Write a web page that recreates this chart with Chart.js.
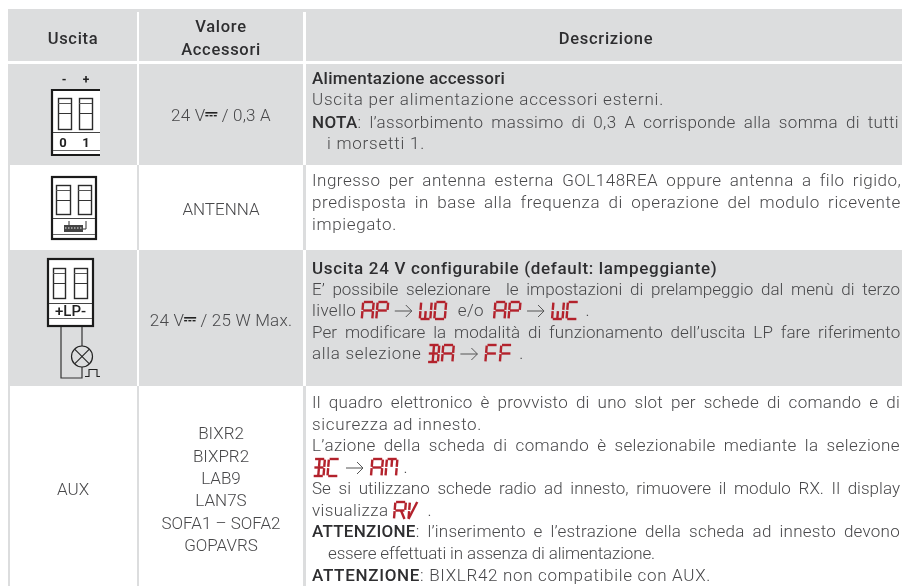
<!DOCTYPE html>
<html>
<head>
<meta charset="utf-8">
<title>Uscite</title>
<script src="https://cdn.jsdelivr.net/npm/chart.js@4"></script>
<style>
  html, body { margin: 0; padding: 0; background: #fff; }
  #wrap { width: 902px; height: 586px; }
</style>
</head>
<body>
<div id="wrap"><canvas id="tabella" width="902" height="586"></canvas></div>
<script>
// Testi della tabella
const intestazioni = ['Uscita', 'Valore|Accessori', 'Descrizione'];
const uscite = ['', '', '', 'AUX'];
const valori = [
    ['24 V~ / 0,3 A'],
    ['ANTENNA'],
    ['24 V~ / 25 W Max.'],
    ['BIXR2', 'BIXPR2', 'LAB9', 'LAN7S', 'SOFA1 – SOFA2', 'GOPAVRS']
];
const descrizioni = [
    ['**Alimentazione accessori**',
     'Uscita per alimentazione accessori esterni.',
     '**NOTA**: l’assorbimento massimo di 0,3 A corrisponde alla somma di tutti',
     'i morsetti 1.'],
    ['Ingresso per antenna esterna GOL148REA oppure antenna a filo rigido,',
     'predisposta in base alla frequenza di operazione del modulo ricevente',
     'impiegato.'],
    ['**Uscita 24 V configurabile (default: lampeggiante)**',
     'E’ possibile selezionare  le impostazioni di prelampeggio dal menù di terzo',
     'livello {AP}>{WO}  e/o  {AP}>{WC} .',
     'Per modificare la modalità di funzionamento dell’uscita LP fare riferimento',
     'alla selezione {BA}>{FF} .'],
    ['Il quadro elettronico è provvisto di uno slot per schede di comando e di',
     'sicurezza ad innesto.',
     'L’azione della scheda di comando è selezionabile mediante la selezione',
     '{BC}>{AM} .',
     'Se si utilizzano schede radio ad innesto, rimuovere il modulo RX. Il display',
     'visualizza {RV} .',
     '**ATTENZIONE**: l’inserimento e l’estrazione della scheda ad innesto devono',
     'essere effettuati in assenza di alimentazione.',
     '**ATTENZIONE**: BIXLR42 non compatibile con AUX.']
];

// Righe e colonne della griglia (altezze e bordi, in unita' della scala)
const bordiRighe = [9, 61, 64, 165, 250, 386, 586];
const bordiColonne = [8, 137, 139, 303, 306, 902];

// Fine riga di ogni testo
const fineRighe = [
    [505, 664, 899, 425],
    [901, 901, 397],
    [717, 900, 590, 900, 524],
    [900, 482, 900, 407, 900, 432, 900, 655, 711]
];
const baseRighe = [
    [84, 105, 128, 149],
    [186, 208, 230],
    [274, 295, 316, 338, 359],
    [408, 430, 451, 473, 494, 516, 537, 559, 581]
];
const rientri = { '0-3': 15, '3-7': 16 };

const GRIGIO = '#dcddde';
const NERO = '#1b1b1b';
const TESTO = '#48484a';
const SCURO = '#2e2e30';
const ROSSO = '#b3222c';
const FONT = 'Roboto, "Open Sans", sans-serif';

// Celle: riga grigia = tre celle, riga bianca = solo i filetti
function segmentiRiga(i) {
    const c = bordiColonne;
    if (i === 1) return [];
    return i % 2 === 0
        ? [[c[0], c[1]], [c[2], c[3]], [c[4], c[5]]]
        : [[c[0], c[0] + 2], [c[1], c[2]], [c[3], c[4]]];
}

const datasets = [];
for (let i = 0; i < bordiRighe.length - 1; i++) {
    const alto = bordiRighe[i], basso = bordiRighe[i + 1];
    const seg = segmentiRiga(i);
    if (!seg.length) continue;
    datasets.push({
        data: seg.map(s => ({ x: s, y: (alto + basso) / 2 })),
        backgroundColor: GRIGIO,
        barThickness: basso - alto,
        grouped: false,
        inflateAmount: 0,
        borderWidth: 0
    });
}
// striscia continua in cima all'intestazione
datasets.push({
    data: [{ x: [bordiColonne[0], bordiColonne[5]], y: 10.5 }],
    backgroundColor: GRIGIO,
    barThickness: 3,
    grouped: false,
    inflateAmount: 0,
    borderWidth: 0
});

function linea(ctx, pts, w, col) {
    ctx.strokeStyle = col || NERO;
    ctx.lineWidth = w;
    ctx.beginPath();
    pts.forEach((p, i) => i ? ctx.lineTo(p[0], p[1]) : ctx.moveTo(p[0], p[1]));
    ctx.stroke();
}

// Morsettiera: contorno, due viti e divisorio
function morsetto(ctx, x0, x1, y0, y1, vite1, vite2, yV0, yV1, yDiv, yFondo, aperto) {
    ctx.fillStyle = '#fff';
    ctx.fillRect(x0, y0, x1 - x0, y1 - y0);
    ctx.strokeStyle = NERO;
    if (aperto) {
        linea(ctx, [[x1, y0 + 1], [x0 + 1, y0 + 1], [x0 + 1, y1 - 1], [x1, y1 - 1]], 2.2);
    } else {
        ctx.lineWidth = 2.2;
        ctx.strokeRect(x0 + 1, y0 + 1, x1 - x0 - 2, y1 - y0 - 2);
    }
    [vite1, vite2].forEach(v => {
        ctx.lineWidth = 1.4;
        ctx.strokeStyle = '#2a2a2a';
        ctx.strokeRect(v[0] + .5, yV0 + .5, v[1] - v[0], yV1 - yV0);
        linea(ctx, [[v[0], yV0 + 5.5], [v[1], yV0 + 5.5]], 1, '#555');
        linea(ctx, [[v[0], yV0 + 15.5], [v[1], yV0 + 15.5]], 1, '#333');
    });
    linea(ctx, [[x0 + 2, yDiv], [x1 - (aperto ? 0 : 2), yDiv]], 1, '#444');
    linea(ctx, [[x0 + 2, yFondo], [x1 - (aperto ? 0 : 2), yFondo]], 1, '#666');
}

function disegnaIcone(ctx) {
    // alimentazione accessori
    morsetto(ctx, 51, 100, 89, 156, [58, 71], [79, 92], 98, 129, 132.5, 150.5, true);
    ctx.fillStyle = '#222';
    ctx.textAlign = 'center';
    ctx.font = 'bold 12px ' + FONT;
    ctx.fillText('-', 64, 84);
    ctx.fillText('+', 86, 84);
    ctx.font = 'bold 13px ' + FONT;
    ctx.fillText('0', 63, 147);
    ctx.fillText('1', 86, 147);

    // antenna
    morsetto(ctx, 51, 97, 176, 240, [56, 70], [78, 91], 185, 214, 218.5, 234.5, false);
    ctx.fillStyle = '#444';
    ctx.fillRect(64, 225, 19, 7);
    ctx.fillStyle = '#999';
    for (let x = 65; x < 83; x += 3) ctx.fillRect(x, 227, 1.5, 2);
    linea(ctx, [[69, 225], [69, 221]], 1, '#333');
    linea(ctx, [[83, 229], [86, 229], [86, 221]], 1, '#333');

    // lampeggiante
    morsetto(ctx, 47, 94, 258, 327, [53, 65], [74, 87], 268, 298, 303.5, 318.5, false);
    ctx.fillStyle = '#222';
    ctx.font = '500 15px ' + FONT;
    ctx.fillText('+LP-', 70.5, 316);
    linea(ctx, [[61, 327], [61, 378], [82, 378], [82, 367]], 1.2, '#333');
    linea(ctx, [[82, 327], [82, 346]], 1.2, '#333');
    ctx.strokeStyle = '#222';
    ctx.lineWidth = 1.2;
    ctx.beginPath();
    ctx.arc(82, 356.5, 10.5, 0, Math.PI * 2);
    ctx.stroke();
    linea(ctx, [[74.6, 349.1], [89.4, 363.9]], 1.1, '#222');
    linea(ctx, [[89.4, 349.1], [74.6, 363.9]], 1.1, '#222');
    linea(ctx, [[85, 376.5], [89, 376.5], [89, 369.5], [97, 369.5], [97, 376.5], [100, 376.5]], 1.1, '#222');
}

// Display a sette segmenti per le sigle dei menu
const GLIFI = {
    A: 'a b c e f g', P: 'a b e f g', W: 'b c d e f j', O: 'a b c d e f', C: 'a d e f',
    B: 'a b c d g i j', M: 'a b c e f i', F: 'a e f g', R: 'a b e f g k', V: 'e f l'
};
const GLIFO_L = 10.5, GLIFO_H = 17, GLIFO_PASSO = 14.5;

function sigla(ctx, testo, x, base) {
    for (const ch of testo) {
        const k = ch === '0' ? 'O' : ch;
        const y0 = base - GLIFO_H, ym = base - GLIFO_H / 2;
        const inc = 1.4, g = 0.7;
        const px = (u, y) => x + u + inc * (base - y) / GLIFO_H;
        const S = {
            a: [[g, y0], [GLIFO_L - g, y0]], b: [[GLIFO_L, y0 + g], [GLIFO_L, ym - g]], c: [[GLIFO_L, ym + g], [GLIFO_L, base - g]],
            d: [[g, base], [GLIFO_L - g, base]], e: [[0, ym + g], [0, base - g]], f: [[0, y0 + g], [0, ym - g]],
            g: [[g, ym], [GLIFO_L - g, ym]], i: [[GLIFO_L / 2, y0 + g], [GLIFO_L / 2, ym - g]], j: [[GLIFO_L / 2, ym + g], [GLIFO_L / 2, base - g]],
            k: [[GLIFO_L * .6, ym], [GLIFO_L, base]], l: [[0, base], [GLIFO_L * .7, y0]]
        };
        GLIFI[k].split(' ').forEach(s => {
            linea(ctx, S[s].map(p => [px(p[0], p[1]), p[1]]), 2.4, ROSSO);
        });
        x += GLIFO_PASSO;
    }
}

function freccia(ctx, x, y) {
    linea(ctx, [[x, y], [x + 17, y]], 1, '#555');
    linea(ctx, [[x + 11, y - 6], [x + 17, y], [x + 11, y + 6]], 1, '#555');
}

// Spezza la riga in pezzi: testo, grassetto, sigla, freccia
function pezzi(riga) {
    const out = [];
    riga.split(/(\*\*.+?\*\*|\{\w+\}|>)/).forEach(p => {
        if (!p) return;
        if (p.startsWith('**')) out.push({ t: 'b', s: p.slice(2, -2) });
        else if (p[0] === '{') out.push({ t: 's', s: p.slice(1, -1) });
        else if (p === '>') out.push({ t: 'f' });
        else out.push({ t: 'n', s: p });
    });
    return out;
}
const fontDi = t => (t === 'b' ? '500 ' : '300 ') + '17px ' + FONT;

function disegnaRiga(ctx, riga, x, base, fine) {
    const ps = pezzi(riga);
    ctx.wordSpacing = '0px';
    ctx.letterSpacing = '0px';
    const largh = ps.reduce((a, p) => {
        if (p.t === 's') return a + p.s.length * GLIFO_PASSO + 1;
        if (p.t === 'f') return a + 28;
        ctx.font = fontDi(p.t);
        return a + ctx.measureText(p.s).width;
    }, 0);
    const testi = ps.filter(p => p.t === 'n' || p.t === 'b');
    const spazi = testi.reduce((a, p) => a + p.s.split(' ').length - 1, 0);
    const lettere = testi.reduce((a, p) => a + p.s.length, 0);
    const diff = fine - x - largh;
    // righe giustificate: prima lo spazio tra le parole, il resto sulle lettere
    const ws = riga.length > 60 ? Math.max(-1, Math.min(3.5, diff / spazi)) : 0;
    ctx.wordSpacing = ws + 'px';
    ctx.letterSpacing = ((diff - ws * spazi) / lettere) + 'px';
    ctx.textAlign = 'left';
    ps.forEach(p => {
        if (p.t === 's') {
            sigla(ctx, p.s, x + 1, base + 3);
            x += p.s.length * GLIFO_PASSO + 1;
        } else if (p.t === 'f') {
            freccia(ctx, x + 4, base - 5);
            x += 28;
        } else {
            ctx.font = fontDi(p.t);
            ctx.fillStyle = p.t === 'b' ? SCURO : TESTO;
            ctx.fillText(p.s, x, base);
            x += ctx.measureText(p.s).width;
        }
    });
    ctx.wordSpacing = '0px';
    ctx.letterSpacing = '0px';
}

// 24 V con il simbolo della continua in mezzo
function valoreV(ctx, testo, cx, base) {
    const [a, b] = testo.split('~');
    ctx.font = '300 17px ' + FONT;
    ctx.letterSpacing = '0.2px';
    ctx.fillStyle = TESTO;
    const la = ctx.measureText(a).width, lb = ctx.measureText(b).width;
    let x = cx - (la + 12 + lb) / 2;
    ctx.textAlign = 'left';
    ctx.fillText(a, x, base);
    x += la;
    ctx.fillStyle = '#222';
    ctx.fillRect(x, base - 9, 12, 1.6);
    for (let i = 0; i < 3; i++) ctx.fillRect(x + i * 4.2, base - 6, 3, 1.4);
    ctx.fillStyle = TESTO;
    ctx.fillText(b, x + 12, base);
    ctx.letterSpacing = '0px';
}

const pluginTesti = {
    id: 'testi',
    afterDatasetsDraw(chart) {
        const ctx = chart.ctx;
        ctx.save();
        ctx.textBaseline = 'alphabetic';
        const xs = chart.scales.x, ys = chart.scales.y;

        // intestazione
        ctx.textAlign = 'center';
        ctx.font = '500 16.5px ' + FONT;
        ctx.fillStyle = SCURO;
        ctx.letterSpacing = '0.7px';
        const centri = [73, 221, 606];
        intestazioni.forEach((t, i) => {
            const r = t.split('|');
            const b0 = r.length > 1 ? 32 : 44;
            r.forEach((s, j) => ctx.fillText(s, xs.getPixelForValue(centri[i]), ys.getPixelForValue(b0 + j * 23)));
        });
        ctx.letterSpacing = '0px';

        disegnaIcone(ctx);

        // uscita
        ctx.textAlign = 'center';
        ctx.font = '300 17px ' + FONT;
        ctx.fillStyle = TESTO;
        uscite.forEach(t => { if (t) ctx.fillText(t, xs.getPixelForValue(73), ys.getPixelForValue(495)); });

        // valori
        const baseValori = [[121], [215], [326], [439, 461.5, 483.5, 506, 528.5, 551]];
        valori.forEach((righe, i) => righe.forEach((t, j) => {
            const b = ys.getPixelForValue(baseValori[i][j]);
            if (t.includes('~')) { valoreV(ctx, t, xs.getPixelForValue(221), b); return; }
            ctx.textAlign = 'center';
            ctx.font = '300 17px ' + FONT;
            ctx.fillStyle = TESTO;
            ctx.fillText(t, xs.getPixelForValue(221), b);
        }));

        // descrizioni
        descrizioni.forEach((righe, i) => righe.forEach((t, j) => {
            const x = 312 + (rientri[i + '-' + j] || 0);
            disegnaRiga(ctx, t, xs.getPixelForValue(x), ys.getPixelForValue(baseRighe[i][j]), fineRighe[i][j]);
        }));
        ctx.restore();
    }
};

document.addEventListener('DOMContentLoaded', function() {
    new Chart(document.getElementById('tabella'), {
        type: 'bar',
        data: { datasets: datasets },
        plugins: [pluginTesti],
        options: {
            indexAxis: 'y',
            responsive: false,
            animation: false,
            parsing: { xAxisKey: 'x', yAxisKey: 'y' },
            layout: { padding: 0 },
            plugins: { legend: { display: false }, tooltip: { enabled: false }, title: { display: false } },
            scales: {
                x: { type: 'linear', min: 0, max: 902, display: false },
                y: { type: 'linear', min: 0, max: 586, reverse: true, display: false, offset: false }
            }
        }
    });
});
</script>
</body>
</html>
